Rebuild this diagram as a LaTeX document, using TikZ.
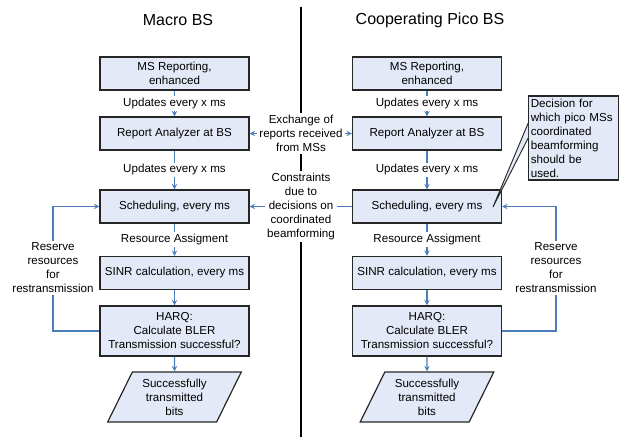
\documentclass[tikz,border=0pt]{standalone}
\usepackage{fontspec}
\setmainfont{Liberation Sans}
\usetikzlibrary{arrows, positioning, shapes.geometric}
\definecolor{boxfill}{RGB}{227,233,246}
\definecolor{flowblue}{RGB}{74,126,187}
\definecolor{boxline}{RGB}{38,38,38}

\begin{document}
\begin{tikzpicture}[x=0.75pt, y=-0.75pt,
  every node/.style={font=\fontsize{8.7}{10.5}\selectfont},
  title/.style={font=\fontsize{12}{14}\selectfont},
  block/.style={draw=boxline, line width=0.9pt, fill=boxfill, align=center,
    minimum width=111.75pt, minimum height=24.75pt, inner sep=2pt},
  bits/.style={trapezium, trapezium left angle=63.4, trapezium right angle=116.6,
    trapezium stretches=true, draw=boxline, line width=0.9pt, fill=boxfill,
    align=center, minimum width=100.5pt, minimum height=37.5pt, inner sep=1pt},
  midtext/.style={fill=white, align=center, inner sep=1.5pt},
  note/.style={draw=boxline, line width=0.9pt, fill=boxfill, align=left,
    text width=64pt, minimum height=63pt, inner sep=1.5pt},
  flow/.style={draw=flowblue, line width=0.8pt, ->, >=stealth},
  flowline/.style={draw=flowblue, line width=0.8pt},
  divider/.style={draw=black, line width=0.8pt}
]
  \useasboundingbox (0,0) rectangle (621,438);

  % Titel
  \node[title] (titleL) at (178,20) {Macro BS};
  \node[title] (titleR) at (430,20) {Cooperating Pico BS};

  % Macro BS
  \node[block] (msrepL) at (174.5,73.5) {MS Reporting,\\enhanced};
  \node[block] (analyzerL) at (174.5,133.5) {Report Analyzer at BS};
  \node[block] (schedL) at (174.5,206.5) {Scheduling, every ms};
  \node[block] (sinrL) at (174.5,273) {SINR calculation, every ms};
  \node[block, minimum height=37.5pt] (harqL) at (174.5,331) {HARQ:\\Calculate BLER\\Transmission successful?};
  \node[bits] (bitsL) at (174.5,397) {Successfully\\transmitted\\bits};

  % Cooperating Pico BS
  \node[block] (msrepR) at (427,73.5) {MS Reporting,\\enhanced};
  \node[block] (analyzerR) at (427,133.5) {Report Analyzer at BS};
  \node[block] (schedR) at (427,206.5) {Scheduling, every ms};
  \node[block] (sinrR) at (427,273) {SINR calculation, every ms};
  \node[block, minimum height=37.5pt] (harqR) at (427,331) {HARQ:\\Calculate BLER\\Transmission successful?};
  \node[bits] (bitsR) at (427,397) {Successfully\\transmitted\\bits};

  % Flujo vertical
  \draw[flow] (msrepL) -- node[midtext] {Updates every x ms} (analyzerL);
  \draw[flow] (analyzerL) -- node[midtext] {Updates every x ms} (schedL);
  \draw[flow] (schedL) -- node[midtext] {Resource Assigment} (sinrL);
  \draw[flow] (sinrL) -- (harqL);
  \draw[flow] (harqL) -- (bitsL);
  \draw[flow] (msrepR) -- node[midtext] {Updates every x ms} (analyzerR);
  \draw[flow] (analyzerR) -- node[midtext] {Updates every x ms} (schedR);
  \draw[flow] (schedR) -- node[midtext] {Resource Assigment} (sinrR);
  \draw[flow] (sinrR) -- (harqR);
  \draw[flow] (harqR) -- (bitsR);

  % Separacion y textos centrales
  \coordinate (divtop) at (301,7);
  \coordinate (divbot) at (301,437);
  \node[midtext] (exchange) at (301,133.5) {Exchange of\\reports received\\from MSs};
  \node[midtext] (constraints) at (301,206.5) {Constraints\\due to\\decisions on\\coordinated\\beamforming};
  \draw[divider] (divtop) -- (exchange);
  \draw[divider] (exchange) -- (constraints);
  \draw[divider] (constraints) -- (divbot);
  \draw[flow] (exchange) -- (analyzerL);
  \draw[flow] (exchange) -- (analyzerR);
  \draw[flowline] (schedR) -- (constraints);
  \draw[flow] (constraints) -- (schedL);

  % Retransmision
  \node[midtext] (reserveL) at (53,268) {Reserve\\resources\\for\\restransmission};
  \node[midtext] (reserveR) at (556,268) {Reserve\\resources\\for\\restransmission};
  \draw[flowline] (harqL.west) -| (reserveL.south);
  \draw[flow] (reserveL.north) |- (schedL.west);
  \draw[flowline] (harqR.east) -| (reserveR.south);
  \draw[flow] (reserveR.north) |- (schedR.east);

  % Nota
  \node[note] (decision) at (573.5,138) {Decision for\\which pico MSs\\coordinated\\beamforming\\should be\\used.};
  \coordinate (pointer) at (493,207);
  \fill[boxfill] ([yshift=11.25pt]decision.west) -- (pointer) -- (decision.west) -- cycle;
  \draw[boxline, line width=0.7pt] ([yshift=11.25pt]decision.west) -- (pointer) -- (decision.west);

\end{tikzpicture}
\end{document}
